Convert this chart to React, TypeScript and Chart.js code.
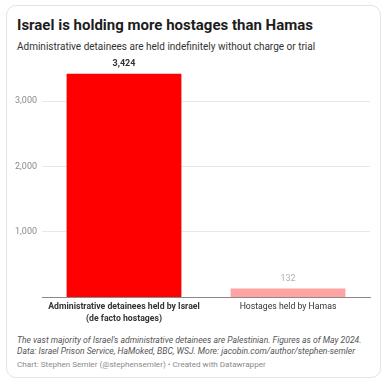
import React, { useEffect, useRef } from "react";
import { Chart, registerables } from "chart.js";

Chart.register(...registerables);

const categories: (string | string[])[] = [
  ["Administrative detainees held by Israel", "(de facto hostages)"],
  "Hostages held by Hamas",
];
const values = [3424, 132];
const barColors = ["#ff0000", "#ffa3a3"];
const valueLabelColors = ["#333333", "#b0b0b0"];
const valueLabelBold = [true, false];
const yTickValues = [1000, 2000, 3000];

const title = "Israel is holding more hostages than Hamas";
const subtitle = "Administrative detainees are held indefinitely without charge or trial";
const notes = [
  "The vast majority of Israel's administrative detainees are Palestinian. Figures as of May 2024.",
  "Data: Israel Prison Service, HaMoked, BBC, WSJ. More: jacobin.com/author/stephen-semler",
];
const credit = "Chart: Stephen Semler (@stephensemler) \u2022 Created with Datawrapper";

const FONT = "Roboto, 'Noto Sans', Arial, sans-serif";

const valueLabelsPlugin = {
  id: "valueLabels",
  afterDatasetsDraw(chart: any) {
    const ctx = chart.ctx;
    const meta = chart.getDatasetMeta(0);
    meta.data.forEach((bar: any, i: number) => {
      ctx.save();
      ctx.font = `${valueLabelBold[i] ? "bold " : ""}9px ${FONT}`;
      ctx.fillStyle = valueLabelColors[i];
      ctx.textAlign = "center";
      ctx.textBaseline = "bottom";
      ctx.fillText(values[i].toLocaleString("en-US"), bar.x, bar.y - 5);
      ctx.restore();
    });
  },
};

export default function App() {
  const canvasRef = useRef<HTMLCanvasElement | null>(null);

  useEffect(() => {
    if (!canvasRef.current) return;
    const chart = new Chart(canvasRef.current, {
      type: "bar",
      data: {
        labels: categories,
        datasets: [
          {
            data: values,
            backgroundColor: barColors,
            borderWidth: 0,
            barPercentage: 0.7,
            categoryPercentage: 1,
          },
        ],
      },
      options: {
        responsive: false,
        animation: false,
        devicePixelRatio: 1,
        layout: { padding: { top: 18.4, right: 11, bottom: 0, left: 0 } },
        plugins: {
          legend: { display: false },
          tooltip: { enabled: false },
        },
        scales: {
          x: {
            grid: { display: false, drawTicks: false },
            border: { display: true, color: "#8a8a8a", width: 1 },
            ticks: {
              color: "#333333",
              padding: 4,
              maxRotation: 0,
              autoSkip: false,
              font: (c: any) => ({
                family: FONT,
                size: 8.7,
                weight: c.index === 0 ? "bold" : "normal",
                lineHeight: 1.35,
              }),
            },
            afterFit: (scale: any) => {
              scale.height = 33;
            },
          },
          y: {
            min: 0,
            max: Math.max(...values),
            grid: {
              drawTicks: false,
              color: "#e8e8e8",
              lineWidth: 1,
            },
            border: { display: false },
            ticks: {
              stepSize: 1000,
              padding: 5,
              color: "#8a8a8a",
              font: { family: FONT, size: 9 },
              callback: (v: any) => Number(v).toLocaleString("en-US"),
            },
            afterBuildTicks: (scale: any) => {
              scale.ticks = yTickValues.map((v) => ({ value: v }));
            },
            afterFit: (scale: any) => {
              scale.width = 36;
            },
          },
        },
      },
      plugins: [valueLabelsPlugin],
    });
    return () => chart.destroy();
  }, []);

  const abs = (extra: React.CSSProperties): React.CSSProperties => ({
    position: "absolute",
    whiteSpace: "nowrap",
    margin: 0,
    ...extra,
  });

  return (
    <div
      style={{
        position: "fixed",
        left: 0,
        top: 0,
        width: 387,
        height: 384,
        background: "#ffffff",
        fontFamily: FONT,
        overflow: "hidden",
      }}
    >
      <div
        style={{
          position: "absolute",
          left: 6,
          top: 5,
          width: 375,
          height: 373,
          boxSizing: "border-box",
          border: "1px solid #dde5ea",
          borderRadius: 10,
        }}
      />
      <div
        style={abs({
          left: 17,
          top: 16,
          fontSize: 15,
          lineHeight: "18px",
          fontWeight: "bold",
          color: "#1d1d1d",
        })}
      >
        {title}
      </div>
      <div
        style={abs({
          left: 17,
          top: 41,
          fontSize: 10,
          lineHeight: "12px",
          color: "#333333",
        })}
      >
        {subtitle}
      </div>
      <canvas
        ref={canvasRef}
        width={375}
        height={275}
        style={{ position: "absolute", left: 6, top: 55, width: 375, height: 275 }}
      />
      {notes.map((n, i) => (
        <div
          key={i}
          style={abs({
            left: 17,
            top: 334.5 + i * 11,
            fontSize: 8.6,
            lineHeight: "11px",
            fontStyle: "italic",
            color: "#555555",
          })}
        >
          {n}
        </div>
      ))}
      <div
        style={abs({
          left: 17,
          top: 358.5,
          fontSize: 8.1,
          lineHeight: "11px",
          color: "#8a8a8a",
        })}
      >
        {credit}
      </div>
    </div>
  );
}
